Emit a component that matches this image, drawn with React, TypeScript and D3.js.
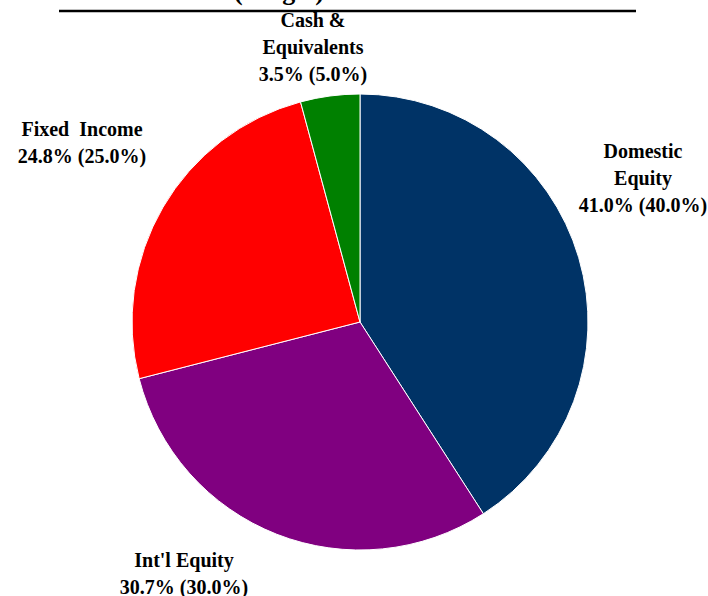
import React from "react";
import * as d3 from "d3";

const categories = ["Domestic Equity", "Int'l Equity", "Fixed Income", "Cash & Equivalents"];
const actual = [41.0, 30.7, 24.8, 3.5];
const target = [40.0, 30.0, 25.0, 5.0];
const sliceValues = [40.9, 30.1, 24.8, 4.2];
const colors = ["#003366", "#800080", "#FF0000", "#008000"];
const labelLines = [
  ["Domestic", "Equity"],
  ["Int'l Equity"],
  ["Fixed  Income"],
  ["Cash &", "Equivalents"],
];
const labelPos: [number, number][] = [
  [643, 158],
  [184, 567],
  [82, 136],
  [313, 27],
];

export default function App() {
  const W = 708, H = 596;
  const cx = 360, cy = 322, r = 228;
  const pie = d3.pie<number>().sort(null).value((d) => d);
  const arcs = pie(sliceValues);
  const arc = d3.arc<d3.PieArcDatum<number>>().innerRadius(0).outerRadius(r);
  const font = "'Liberation Serif', 'Times New Roman', serif";
  const lh = 27;
  return (
    <svg width={W} height={H} style={{ position: "absolute", left: 0, top: 0 }}>
      <rect width={W} height={H} fill="#fff" />
      <text x={279} y={0} textAnchor="middle" fontFamily={font} fontWeight="bold" fontSize={26} fill="#000">
        (Target)
      </text>
      <line x1={59} x2={636} y1={11} y2={11} stroke="#000" strokeWidth={2.5} />
      <g transform={`translate(${cx},${cy})`}>
        {arcs.map((a, i) => (
          <path key={i} d={arc(a) || ""} fill={colors[i]} stroke="#fff" strokeWidth={1} />
        ))}
      </g>
      {categories.map((c, i) => {
        const lines = [...labelLines[i], `${actual[i].toFixed(1)}% (${target[i].toFixed(1)}%)`];
        const [x, y] = labelPos[i];
        return (
          <text key={c} textAnchor="middle" fontFamily={font} fontWeight="bold" fontSize={20} fill="#000">
            {lines.map((t, j) => (
              <tspan key={j} x={x} y={y + j * lh} style={{ whiteSpace: "pre" }}>
                {t}
              </tspan>
            ))}
          </text>
        );
      })}
    </svg>
  );
}
